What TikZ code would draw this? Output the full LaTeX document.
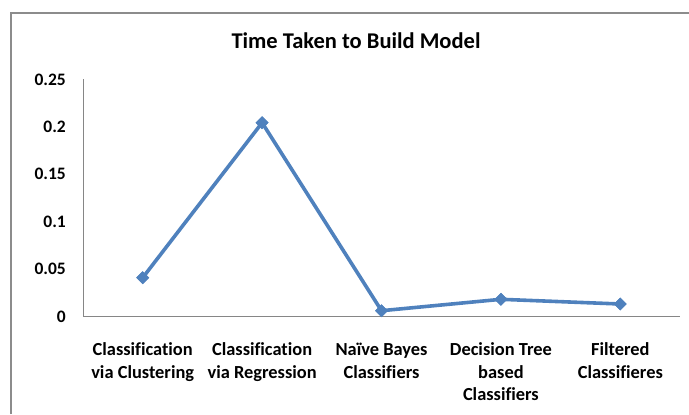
\documentclass[tikz,border=0pt]{standalone}
\usepackage{fontspec}
\setmainfont{Carlito}[Ligatures=NoCommon]
\usetikzlibrary{shapes.geometric}
\definecolor{serieblue}{HTML}{4F81BD}
\definecolor{axisgray}{HTML}{868686}
\definecolor{framegray}{HTML}{8C8C8C}
\tikzset{
  chartframe/.style={draw=framegray, line width=1.5bp},
  axisline/.style={draw=axisgray, line width=1bp},
  ticklabel/.style={anchor=base east, inner sep=0pt, font=\bfseries\fontsize{17.5bp}{20bp}\selectfont},
  catlabel/.style={anchor=north, inner sep=0pt, align=center, font=\bfseries\fontsize{18.4bp}{22.5bp}\selectfont},
  charttitle/.style={anchor=base, inner sep=0pt, font=\bfseries\fontsize{22.5bp}{26bp}\selectfont},
  datapoint/.style={diamond, fill=serieblue, inner sep=0pt, minimum width=13bp, minimum height=13bp},
  serieline/.style={draw=serieblue, line width=3.6bp, line join=round}
}
\begin{document}
\begin{tikzpicture}[x=1bp, y=-1bp]
\useasboundingbox (0,0) rectangle (689,414);
\clip (0,0) rectangle (689,414);
% chart area frame (left and top edges)
\coordinate (fbl) at (11,414);
\coordinate (ftl) at (11,13);
\coordinate (ftr) at (689,13);
\draw[chartframe] (fbl) -- (ftl) -- (ftr);

% title
\node[charttitle] (title) at (356,48) {Time Taken to Build Model};

% axes
\coordinate (origin) at (83,316);
\coordinate (ytop) at (83,79);
\coordinate (xend) at (680,316);
\draw[axisline] (ytop) -- (origin) -- (xend);

% y tick labels
\node[ticklabel] (t0) at (66,322) {0};
\node[ticklabel] (t1) at (66,274.6) {0.05};
\node[ticklabel] (t2) at (66,227.2) {0.1};
\node[ticklabel] (t3) at (66,179.8) {0.15};
\node[ticklabel] (t4) at (66,132.4) {0.2};
\node[ticklabel] (t5) at (66,85) {0.25};

% data series
\node[datapoint] (p1) at (142.7,277.7) {};
\node[datapoint] (p2) at (262.1,122.7) {};
\node[datapoint] (p3) at (381.5,310.7) {};
\node[datapoint] (p4) at (500.9,299.3) {};
\node[datapoint] (p5) at (620.3,304) {};
\draw[serieline] (p1.center) -- (p2.center) -- (p3.center) -- (p4.center) -- (p5.center);
\foreach \p in {p1,p2,p3,p4,p5} \node[datapoint] at (\p) {};

% category labels
\node[catlabel] (c1) at (142.7,340) {\strut Classification\\\strut via Clustering};
\node[catlabel] (c2) at (262.1,340) {\strut Classification\\\strut via Regression};
\node[catlabel] (c3) at (381.5,340) {\strut Naïve Bayes\\\strut Classifiers};
\node[catlabel] (c4) at (500.9,340) {\strut Decision Tree\\\strut based\\\strut Classifiers};
\node[catlabel] (c5) at (620.3,340) {\strut Filtered\\\strut Classifieres};
\end{tikzpicture}
\end{document}
